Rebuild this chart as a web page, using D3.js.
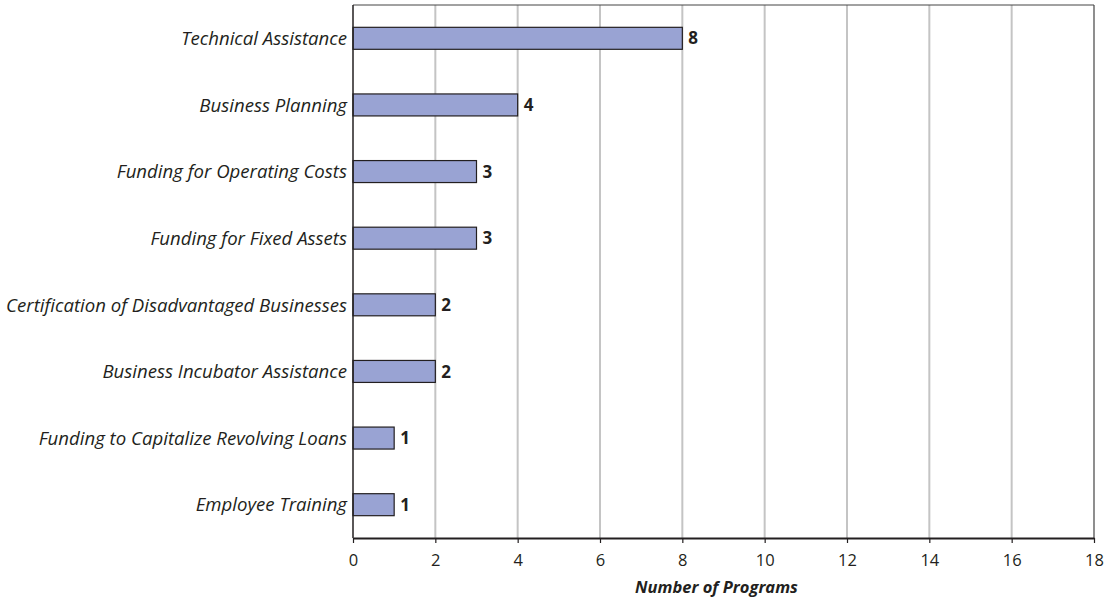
<!DOCTYPE html>
<html>
<head>
<meta charset="utf-8">
<script src="https://cdn.jsdelivr.net/npm/d3@7"></script>
<style>
  html, body { margin: 0; padding: 0; background: #fff; }
  text { font-family: "Open Sans", "DejaVu Sans", sans-serif; fill: #231f20; }
</style>
</head>
<body>
<svg id="chart" width="1104" height="602"></svg>
<script>
// Program types and the number of programs offering each
const categories = [
  "Technical Assistance",
  "Business Planning",
  "Funding for Operating Costs",
  "Funding for Fixed Assets",
  "Certification of Disadvantaged Businesses",
  "Business Incubator Assistance",
  "Funding to Capitalize Revolving Loans",
  "Employee Training"
];
const programCounts = [8, 4, 3, 3, 2, 2, 1, 1];
const xTicks = [0, 2, 4, 6, 8, 10, 12, 14, 16, 18];
const xTitle = "Number of Programs";

const svg = d3.select("#chart");
const margin = { top: 5, right: 10, bottom: 64, left: 353 };
const width = 1104 - margin.left - margin.right;
const height = 602 - margin.top - margin.bottom;

const g = svg.append("g").attr("transform", `translate(${margin.left},${margin.top})`);

const x = d3.scaleLinear().domain([0, 18]).range([0, width]);
const y = d3.scaleBand().domain(categories).range([0, height]).paddingInner(0.67).paddingOuter(0.335);

// Vertical gridlines
g.selectAll("line.grid")
  .data(xTicks.filter(t => t > 0 && t < 18))
  .join("line")
  .attr("class", "grid")
  .attr("x1", d => x(d)).attr("x2", d => x(d))
  .attr("y1", 0).attr("y2", height)
  .attr("stroke", "#c4c4c4")
  .attr("stroke-width", 2);

// Plot frame: top and right edges
g.append("line").attr("x1", 0).attr("x2", width).attr("y1", 0).attr("y2", 0)
  .attr("stroke", "#444").attr("stroke-width", 1);
g.append("line").attr("x1", width).attr("x2", width).attr("y1", 0).attr("y2", height)
  .attr("stroke", "#444").attr("stroke-width", 1.2);

// Bars
g.selectAll("rect.bar")
  .data(categories)
  .join("rect")
  .attr("class", "bar")
  .attr("x", x(0))
  .attr("y", d => y(d))
  .attr("width", (d, i) => x(programCounts[i]) - x(0))
  .attr("height", y.bandwidth())
  .attr("fill", "#99a3d3")
  .attr("stroke", "#231f20")
  .attr("stroke-width", 1.2);

// Value labels
g.selectAll("text.value")
  .data(categories)
  .join("text")
  .attr("class", "value")
  .attr("x", (d, i) => x(programCounts[i]) + 6)
  .attr("y", d => y(d) + y.bandwidth() / 2)
  .attr("dy", "0.36em")
  .attr("font-size", 17)
  .attr("font-weight", "bold")
  .text((d, i) => programCounts[i]);

// Category labels
g.selectAll("text.cat")
  .data(categories)
  .join("text")
  .attr("class", "cat")
  .attr("x", -6)
  .attr("y", d => y(d) + y.bandwidth() / 2)
  .attr("dy", "0.36em")
  .attr("text-anchor", "end")
  .attr("font-size", 18.6)
  .attr("font-style", "italic")
  .text(d => d);

// Left axis line
g.append("line").attr("x1", 0).attr("x2", 0).attr("y1", 0).attr("y2", height)
  .attr("stroke", "#231f20").attr("stroke-width", 1.5);

// Bottom axis
const xAxis = g.append("g")
  .attr("transform", `translate(0,${height})`)
  .call(d3.axisBottom(x).tickValues(xTicks).tickSize(5).tickPadding(11).tickSizeOuter(0));
xAxis.select(".domain").attr("stroke", "#231f20").attr("stroke-width", 2);
xAxis.selectAll(".tick line").attr("stroke", "#231f20").attr("stroke-width", 1.2);
xAxis.selectAll(".tick text")
  .attr("font-size", 16.5)
  .attr("fill", "#231f20")
  .style("font-family", "'Open Sans', sans-serif");

// Axis title
g.append("text")
  .attr("x", x(9) - 7)
  .attr("y", height + 55)
  .attr("text-anchor", "middle")
  .attr("font-size", 16.5)
  .attr("font-weight", "bold")
  .attr("font-style", "italic")
  .text(xTitle);
</script>
</body>
</html>
